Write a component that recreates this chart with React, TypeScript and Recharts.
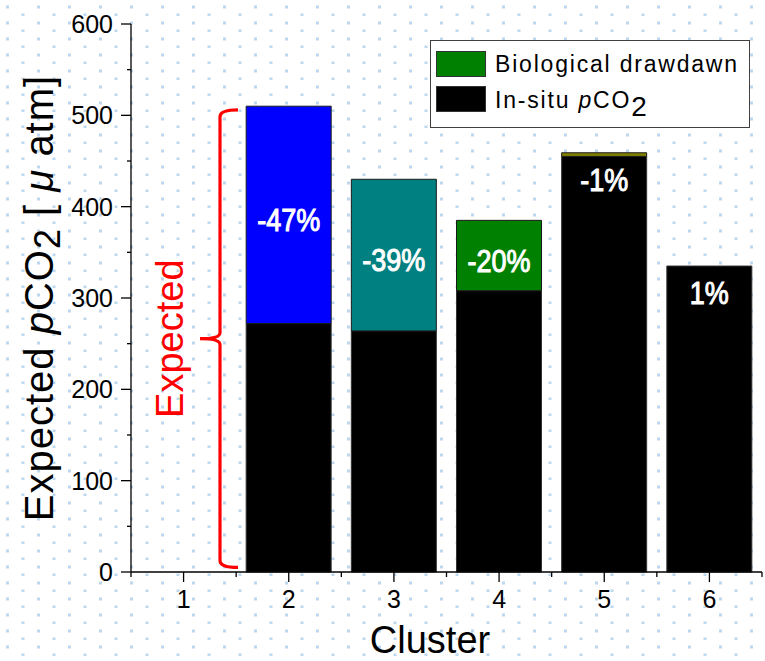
import React from 'react';
import { BarChart, Bar, XAxis, YAxis, Cell, LabelList, Legend, ReferenceArea } from 'recharts';

const clusters = ['1', '2', '3', '4', '5', '6'];
const inSituPco2 = [null, 272, 264, 308, 455, 335];
const drawdown = [null, 238, 166, 77, 4, 0];
const drawdownColors = ['#000000', '#0000ff', '#008080', '#008000', '#808000', '#000000'];
const changeLabels = ['', '-47%', '-39%', '-20%', '-1%', '1%'];
const yTicks = [0, 50, 100, 150, 200, 250, 300, 350, 400, 450, 500, 550, 600];
const legendOrder = ['Biological drawdawn', 'In-situ pCO2'];

const W = 765;
const H = 661;
const PLOT_LEFT = 131;
const PLOT_RIGHT = 762;
const BAND = (PLOT_RIGHT - PLOT_LEFT) / clusters.length;

const FONT = "'Liberation Sans', Arial, sans-serif";

const data = clusters.map((c, i) => ({
  cluster: c,
  insitu: inSituPco2[i],
  drawdown: drawdown[i],
}));

const YTick = (props: any) => {
  const { x, y, payload } = props;
  const major = payload.value % 100 === 0;
  const axisX = x + 18;
  return (
    <g>
      <line x1={axisX - (major ? 10 : 4)} x2={axisX} y1={y} y2={y} stroke="#000" strokeWidth={1.3} />
      {major && (
        <text x={x} y={y} dy="0.355em" textAnchor="end" fontFamily={FONT} fontSize={25} fill="#000">
          {payload.value}
        </text>
      )}
    </g>
  );
};

const XTick = (props: any) => {
  const { x, y, payload, index } = props;
  const axisY = y - 18;
  return (
    <g>
      <line x1={x} x2={x} y1={axisY} y2={axisY + 10} stroke="#000" strokeWidth={1.3} />
      <line x1={x - BAND / 2} x2={x - BAND / 2} y1={axisY} y2={axisY + 5} stroke="#000" strokeWidth={1.3} />
      {index === clusters.length - 1 && (
        <line x1={x + BAND / 2} x2={x + BAND / 2} y1={axisY} y2={axisY + 5} stroke="#000" strokeWidth={1.3} />
      )}
      <text x={x} y={y} dy="0.71em" textAnchor="middle" fontFamily={FONT} fontSize={25} fill="#000">
        {payload.value}
      </text>
    </g>
  );
};

// percentage change, placed from the in-situ segment and the drawdown stacked on it
const ChangeLabel = (props: any) => {
  const vb = props.viewBox || props;
  const { x, y, width, height } = vb;
  const i = clusters.indexOf(String(props.value));
  const text = changeLabels[i];
  const base = inSituPco2[i];
  if (!text || !base) return null;
  const ddH = ((drawdown[i] || 0) * height) / base;
  const segTop = y - ddH;
  const cy = ddH >= 40 ? segTop + ddH / 2 + 5 : segTop + 27;
  return (
    <g transform={`translate(${x + width / 2} ${cy}) scale(1 1.15)`}>
      <text
        x={0}
        y={0}
        dy="0.36em"
        textAnchor="middle"
        fill="#fff"
        stroke="#fff"
        strokeWidth={0.9}
        fontFamily={FONT}
        fontSize={27}
      >
        {text}
      </text>
    </g>
  );
};

// red curly bracket marking the expected level
const Brace = (props: any) => {
  const { x, y, height } = props;
  const bx = x + 89;
  const top = y;
  const bot = y + height;
  const mid = (top + bot) / 2;
  const d = `M ${bx + 18} ${top} Q ${bx} ${top} ${bx} ${top + 7} L ${bx} ${mid - 6} Q ${bx} ${mid} ${bx - 20} ${mid}
    M ${bx - 20} ${mid} Q ${bx} ${mid} ${bx} ${mid + 6} L ${bx} ${bot - 7} Q ${bx} ${bot} ${bx + 18} ${bot}`;
  return (
    <g>
      <path d={d} fill="none" stroke="#ff0000" strokeWidth={3.2} />
      <text
        x={bx - 37}
        y={mid}
        transform={`rotate(-90 ${bx - 37} ${mid})`}
        textAnchor="middle"
        fontFamily={FONT}
        fontSize={38}
        fill="#ff0000"
      >
        Expected
      </text>
    </g>
  );
};

const legendText = (name: string) => {
  if (name.endsWith('pCO2')) {
    return (
      <>
        {name.slice(0, -4)}
        <i>p</i>CO
        <span style={{ fontSize: 28, lineHeight: 1, position: 'relative', top: 8 }}>2</span>
      </>
    );
  }
  return name;
};

const LegendBox = (props: any) => {
  const items = (props.payload || [])
    .filter((e: any) => legendOrder.includes(e.value))
    .sort((a: any, b: any) => legendOrder.indexOf(a.value) - legendOrder.indexOf(b.value));
  return (
    <div
      style={{
        width: 320,
        height: 88,
        boxSizing: 'border-box',
        border: '1.3px solid #404040',
        background: '#fff',
        position: 'relative',
        fontFamily: FONT,
        fontSize: 23,
        letterSpacing: 1.8,
        color: '#000',
      }}
    >
      {items.map((entry: any, i: number) => (
        <div
          key={i}
          style={{
            position: 'absolute',
            left: 5,
            top: 10 + i * 35.3,
            height: 26,
            lineHeight: '26px',
            display: 'flex',
            alignItems: 'center',
            whiteSpace: 'nowrap',
          }}
        >
          <span
            style={{
              width: 50,
              height: 26,
              background: entry.color,
              border: '1px solid #333',
              boxSizing: 'border-box',
              marginRight: 9,
              flexShrink: 0,
            }}
          />
          <span>{legendText(entry.value)}</span>
        </div>
      ))}
    </div>
  );
};

const YLabel = (props: any) => {
  const vb = props.viewBox;
  const x = vb.x + 53;
  const y = vb.y + vb.height / 2;
  return (
    <text
      x={x}
      y={y}
      transform={`rotate(-90 ${x} ${y})`}
      textAnchor="middle"
      fontFamily={FONT}
      fontSize={40}
      letterSpacing={1}
      fill="#000"
    >
      Expected <tspan fontStyle="italic">p</tspan>CO
      <tspan dy={7} fontSize={36}>2</tspan>
      <tspan dy={-7}> [ </tspan>
      <tspan fontStyle="italic">μ</tspan> atm]
    </text>
  );
};

const XLabel = () => (
  <text x={430} y={653} textAnchor="middle" fontFamily={FONT} fontSize={38} fill="#000">
    Cluster
  </text>
);

const App: React.FC = () => {
  return (
    <div style={{ position: 'absolute', left: 0, top: 0, width: W, height: H, background: '#fff' }}>
      <svg width={W} height={H} style={{ position: 'absolute', left: 0, top: 0 }}>
        <defs>
          <pattern id="dots" width={31} height={16} patternUnits="userSpaceOnUse">
            <rect x={6} y={5.5} width={3} height={3} fill="#bdd7ee" />
            <rect x={21.5} y={13.5} width={3} height={3} fill="#bdd7ee" />
          </pattern>
        </defs>
        <rect width={W} height={H} fill="url(#dots)" />
      </svg>
      <div style={{ position: 'absolute', left: 0, top: 0 }}>
        <BarChart
          width={W}
          height={H}
          data={data}
          margin={{ top: 24, right: 3, bottom: 0, left: 0 }}
          barCategoryGap={10}
        >
          <XAxis
            dataKey="cluster"
            height={89}
            interval={0}
            tickSize={10}
            tickMargin={8}
            tickLine={false}
            tick={<XTick />}
            axisLine={{ stroke: '#000', strokeWidth: 1.3 }}
            label={<XLabel />}
          />
          <XAxis xAxisId="top" orientation="top" dataKey="cluster" height={0} tick={false} tickLine={false} axisLine={{ stroke: '#000', strokeWidth: 1.3 }} />
          <YAxis
            width={131}
            domain={[0, 600]}
            ticks={yTicks}
            interval={0}
            tickSize={10}
            tickMargin={8}
            tickLine={false}
            tick={<YTick />}
            axisLine={{ stroke: '#000', strokeWidth: 1.3 }}
            label={<YLabel />}
          />
          <YAxis yAxisId="right" orientation="right" width={0} domain={[0, 600]} tick={false} tickLine={false} axisLine={{ stroke: '#000', strokeWidth: 1.3 }} />
          <ReferenceArea y1={5} y2={506} shape={<Brace />} ifOverflow="visible" />
          <Bar dataKey="insitu" name="In-situ pCO2" stackId="a" fill="#000000" stroke="#333" strokeWidth={1} isAnimationActive={false} />
          <Bar dataKey="drawdown" name="Biological drawdawn" stackId="a" fill="#008000" stroke="#1a1a1a" strokeWidth={1} isAnimationActive={false}>
            {data.map((d, i) => (
              <Cell key={d.cluster} fill={drawdownColors[i]} />
            ))}
          </Bar>
          {/* transparent copy of the in-situ columns on the top axis, carrying the labels above both segments */}
          <Bar xAxisId="top" dataKey="insitu" name="labels" fill="none" legendType="none" isAnimationActive={false}>
            <LabelList dataKey="cluster" content={<ChangeLabel />} />
          </Bar>
          <Legend
            layout="vertical"
            align="center"
            verticalAlign="middle"
            wrapperStyle={{ left: 430, top: 40, width: 320, height: 88 }}
            content={<LegendBox />}
          />
        </BarChart>
      </div>
    </div>
  );
};

export default App;
